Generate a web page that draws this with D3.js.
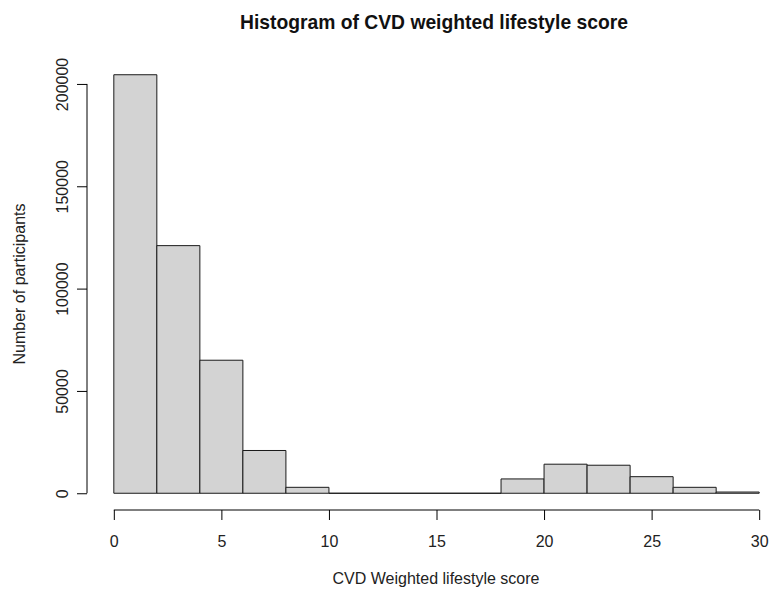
<!DOCTYPE html>
<html>
<head>
<meta charset="utf-8">
<script src="https://cdn.jsdelivr.net/npm/d3@7"></script>
<style>
  html, body { margin: 0; padding: 0; background: #fff; }
  svg { display: block; font-family: "Liberation Sans", Arial, sans-serif; }
</style>
</head>
<body>
<svg id="chart" width="770" height="595"></svg>
<script>
// Histogram bins (width 2) of the CVD weighted lifestyle score
const binStarts = [0, 2, 4, 6, 8, 10, 12, 14, 16, 18, 20, 22, 24, 26, 28];
const binWidth = 2;
const counts = [204500, 121000, 65000, 20900, 2900, 0, 0, 0, 0, 7000, 14200, 13700, 8100, 2900, 600];
const xTicks = [0, 5, 10, 15, 20, 25, 30];
const yTicks = [0, 50000, 100000, 150000, 200000];

const titleText = "Histogram of CVD weighted lifestyle score";
const xLabel = "CVD Weighted lifestyle score";
const yLabel = "Number of participants";

const svg = d3.select("#chart");

// Plot region with the usual 4% padding around the data range
const xMin = 0, xMax = 30;
const yMax = d3.max(counts);
const xPad = (xMax - xMin) * 0.04;
const yPad = yMax * 0.04;

const x = d3.scaleLinear().domain([xMin - xPad, xMax + xPad]).range([88, 785]);
const y = d3.scaleLinear().domain([-yPad, yMax + yPad]).range([510, 58]);

const bins = binStarts.map((s, i) => ({ x0: s, x1: s + binWidth, n: counts[i] }));

// Bars as closed paths so that empty bins still show their outline on the baseline
svg.append("g")
  .selectAll("path")
  .data(bins)
  .join("path")
  .attr("d", d => {
    const p = d3.path();
    p.moveTo(x(d.x0), y(0));
    p.lineTo(x(d.x0), y(d.n));
    p.lineTo(x(d.x1), y(d.n));
    p.lineTo(x(d.x1), y(0));
    p.closePath();
    return p.toString();
  })
  .attr("fill", "#d3d3d3")
  .attr("stroke", "#1a1a1a")
  .attr("stroke-width", 1);

// X axis
const xAxisG = svg.append("g")
  .attr("transform", `translate(0,${y.range()[0]})`)
  .call(d3.axisBottom(x).tickValues(xTicks).tickSize(10).tickSizeOuter(0).tickFormat(d3.format("d")));
xAxisG.select(".domain").remove();
xAxisG.append("line")
  .attr("x1", x(xTicks[0])).attr("x2", x(xTicks[xTicks.length - 1]))
  .attr("y1", 0).attr("y2", 0)
  .attr("stroke", "#000");
xAxisG.selectAll(".tick line").attr("stroke", "#000");
xAxisG.selectAll(".tick text")
  .attr("y", 37).attr("dy", 0)
  .attr("fill", "#222")
  .style("font-size", "16px")
  .style("font-family", "'Liberation Sans', Arial, sans-serif");

// Y axis
const yAxisG = svg.append("g")
  .attr("transform", `translate(${x.range()[0] - 1},0)`)
  .call(d3.axisLeft(y).tickValues(yTicks).tickSize(10).tickSizeOuter(0).tickFormat(d3.format("d")));
yAxisG.select(".domain").remove();
yAxisG.append("line")
  .attr("x1", 0).attr("x2", 0)
  .attr("y1", y(yTicks[0])).attr("y2", y(yTicks[yTicks.length - 1]))
  .attr("stroke", "#000");
yAxisG.selectAll(".tick line").attr("stroke", "#000");
yAxisG.selectAll(".tick text")
  .attr("x", 0).attr("y", 0).attr("dy", 0)
  .attr("transform", "translate(-19,0) rotate(-90)")
  .attr("text-anchor", "middle")
  .attr("fill", "#222")
  .style("font-size", "16px")
  .style("font-family", "'Liberation Sans', Arial, sans-serif");

// Title
svg.append("text")
  .attr("x", 434)
  .attr("y", 29)
  .attr("text-anchor", "middle")
  .style("font-size", "19.3px")
  .style("font-weight", "bold")
  .attr("fill", "#111")
  .text(titleText);

// Axis titles
svg.append("text")
  .attr("x", 436)
  .attr("y", 584)
  .attr("text-anchor", "middle")
  .style("font-size", "16px")
  .attr("fill", "#222")
  .text(xLabel);

svg.append("text")
  .attr("transform", `translate(25,${(y.range()[0] + y.range()[1]) / 2}) rotate(-90)`)
  .attr("text-anchor", "middle")
  .style("font-size", "16px")
  .attr("fill", "#222")
  .text(yLabel);
</script>
</body>
</html>
